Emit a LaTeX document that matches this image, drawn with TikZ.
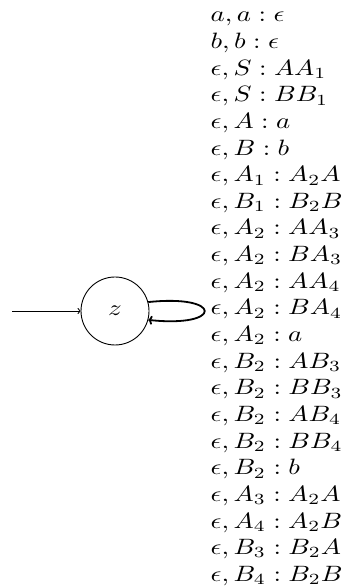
\documentclass[tikz,border=0pt]{standalone}
\usepackage{graphicx}
\usetikzlibrary{arrows.meta}
\tikzset{
  state/.style={draw, circle, minimum size=68pt, inner sep=0pt, line width=0.9pt},
  initarrow/.style={line width=0.9pt, -{To[length=3pt,width=6pt]}},
  looparrow/.style={line width=1.8pt, -{To[length=4pt,width=9pt]}},
  lbl/.style={inner sep=0pt, anchor=north west}
}
\newcommand{\stretchtxt}[1]{\scalebox{2.69}[2.22]{#1}}
\begin{document}
\begin{tikzpicture}[x=1pt,y=1pt]
\useasboundingbox (0,0) rectangle (341,588);
\node[state] (z) at (115,277) {\stretchtxt{$z$}};
\coordinate (start) at (12,277);
\draw[initarrow] (start) -- (z.west);
\draw[looparrow] (z.15) .. controls +(75,8) and +(75,-8) .. (z.-15);
\node[lbl] (label) at (210.5,585) {\stretchtxt{\begin{tabular}{@{}l@{}}
$a, a : \epsilon$\\
$b, b : \epsilon$\\
$\epsilon, S : AA_1$\\
$\epsilon, S : BB_1$\\
$\epsilon, A : a$\\
$\epsilon, B : b$\\
$\epsilon, A_1 : A_2A$\\
$\epsilon, B_1 : B_2B$\\
$\epsilon, A_2 : AA_3$\\
$\epsilon, A_2 : BA_3$\\
$\epsilon, A_2 : AA_4$\\
$\epsilon, A_2 : BA_4$\\
$\epsilon, A_2 : a$\\
$\epsilon, B_2 : AB_3$\\
$\epsilon, B_2 : BB_3$\\
$\epsilon, B_2 : AB_4$\\
$\epsilon, B_2 : BB_4$\\
$\epsilon, B_2 : b$\\
$\epsilon, A_3 : A_2A$\\
$\epsilon, A_4 : A_2B$\\
$\epsilon, B_3 : B_2A$\\
$\epsilon, B_4 : B_2B$
\end{tabular}}};
\end{tikzpicture}
\end{document}
